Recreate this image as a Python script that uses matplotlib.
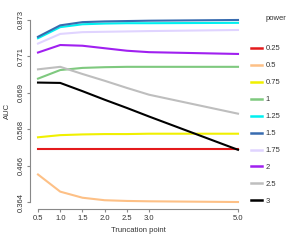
import matplotlib
matplotlib.use("Agg")
import matplotlib.pyplot as plt
import numpy as np

plt.rcParams["font.family"] = ["Liberation Sans", "DejaVu Sans"]

trunc = [0.5, 1.0, 1.5, 2.0, 2.5, 3.0, 5.0]
powers = ["0.25", "0.5", "0.75", "1", "1.25", "1.5", "1.75", "2", "2.5", "3"]
auc = {
    "0.25": [0.513, 0.513, 0.513, 0.513, 0.513, 0.513, 0.513],
    "0.5":  [0.441, 0.393, 0.376, 0.369, 0.367, 0.366, 0.364],
    "0.75": [0.545, 0.551, 0.553, 0.554, 0.554, 0.555, 0.555],
    "1":    [0.709, 0.733, 0.739, 0.741, 0.742, 0.742, 0.742],
    "1.25": [0.822, 0.853, 0.861, 0.863, 0.864, 0.864, 0.865],
    "1.5":  [0.826, 0.858, 0.867, 0.869, 0.870, 0.871, 0.873],
    "1.75": [0.807, 0.834, 0.839, 0.840, 0.841, 0.842, 0.845],
    "2":    [0.782, 0.803, 0.801, 0.794, 0.787, 0.783, 0.778],
    "2.5":  [0.735, 0.742, 0.722, 0.703, 0.683, 0.664, 0.611],
    "3":    [0.698, 0.697, 0.674, 0.650, 0.627, 0.603, 0.510],
}
colors = {
    "0.25": "#E41A1C", "0.5": "#FDC086", "0.75": "#F0F000", "1": "#7FC97F",
    "1.25": "#00F0F0", "1.5": "#386CB0", "1.75": "#E0D4FF", "2": "#A020F0",
    "2.5": "#BEBEBE", "3": "#000000",
}
ytick_vals = [0.364, 0.466, 0.568, 0.669, 0.771, 0.873]
ytick_labels = ["0.364", "0.466", "0.568", "0.669", "0.771", "0.873"]
xtick_vals = [0.5, 1.0, 1.5, 2.0, 2.5, 3.0, 5.0]
xtick_labels = ["0.5", "1.0", "1.5", "2.0", "2.5", "3.0", "5.0"]

fig = plt.figure(figsize=(3.0, 2.4), dpi=100)
ax = fig.add_axes([30/300, 1 - 209.3/240, 216/300, 196.6/240])

handles = []
for p in powers:
    h, = ax.plot(trunc, auc[p], color=colors[p], lw=1.5, label=p,
                 solid_joinstyle="round")
    handles.append(h)

xmin, xmax = 0.5, 5.0
ymin, ymax = 0.364, 0.873
dx = (xmax - xmin) * 0.04
dy = (ymax - ymin) * 0.04
ax.set_xlim(xmin - dx, xmax + dx)
ax.set_ylim(ymin - dy, ymax + dy)

for s in ["top", "right"]:
    ax.spines[s].set_visible(False)
ax.spines["left"].set_bounds(ymin, ymax)
ax.spines["bottom"].set_bounds(xmin, xmax)
for s in ["left", "bottom"]:
    ax.spines[s].set_color("#888888")
    ax.spines[s].set_linewidth(0.8)

ax.set_xticks(xtick_vals)
ax.set_xticklabels(xtick_labels)
ax.set_yticks(ytick_vals)
ax.set_yticklabels(ytick_labels, rotation=90, va="center")
ax.tick_params(axis="both", length=2.5, width=0.8, color="#888888",
               labelsize=5.5, labelcolor="#333333", pad=1.5)

ax.set_xlabel("Truncation point", fontsize=5.5, color="#333333", labelpad=4)
ax.set_ylabel("AUC", fontsize=5.5, color="#333333", labelpad=5)

leg = fig.legend(handles=handles, labels=powers, loc="upper left",
                 bbox_to_anchor=(251/300, 1 - 45/240), frameon=False,
                 fontsize=5.5, handlelength=1.5, handletextpad=0.4,
                 labelspacing=1.26, borderaxespad=0, borderpad=0,
                 labelcolor="#333333")
for line in leg.get_lines():
    line.set_linewidth(1.8)
fig.text(266/300, 1 - 19/240, "power", fontsize=5.5, color="#333333",
         ha="left", va="center")

fig.savefig("out.png", dpi=100)
